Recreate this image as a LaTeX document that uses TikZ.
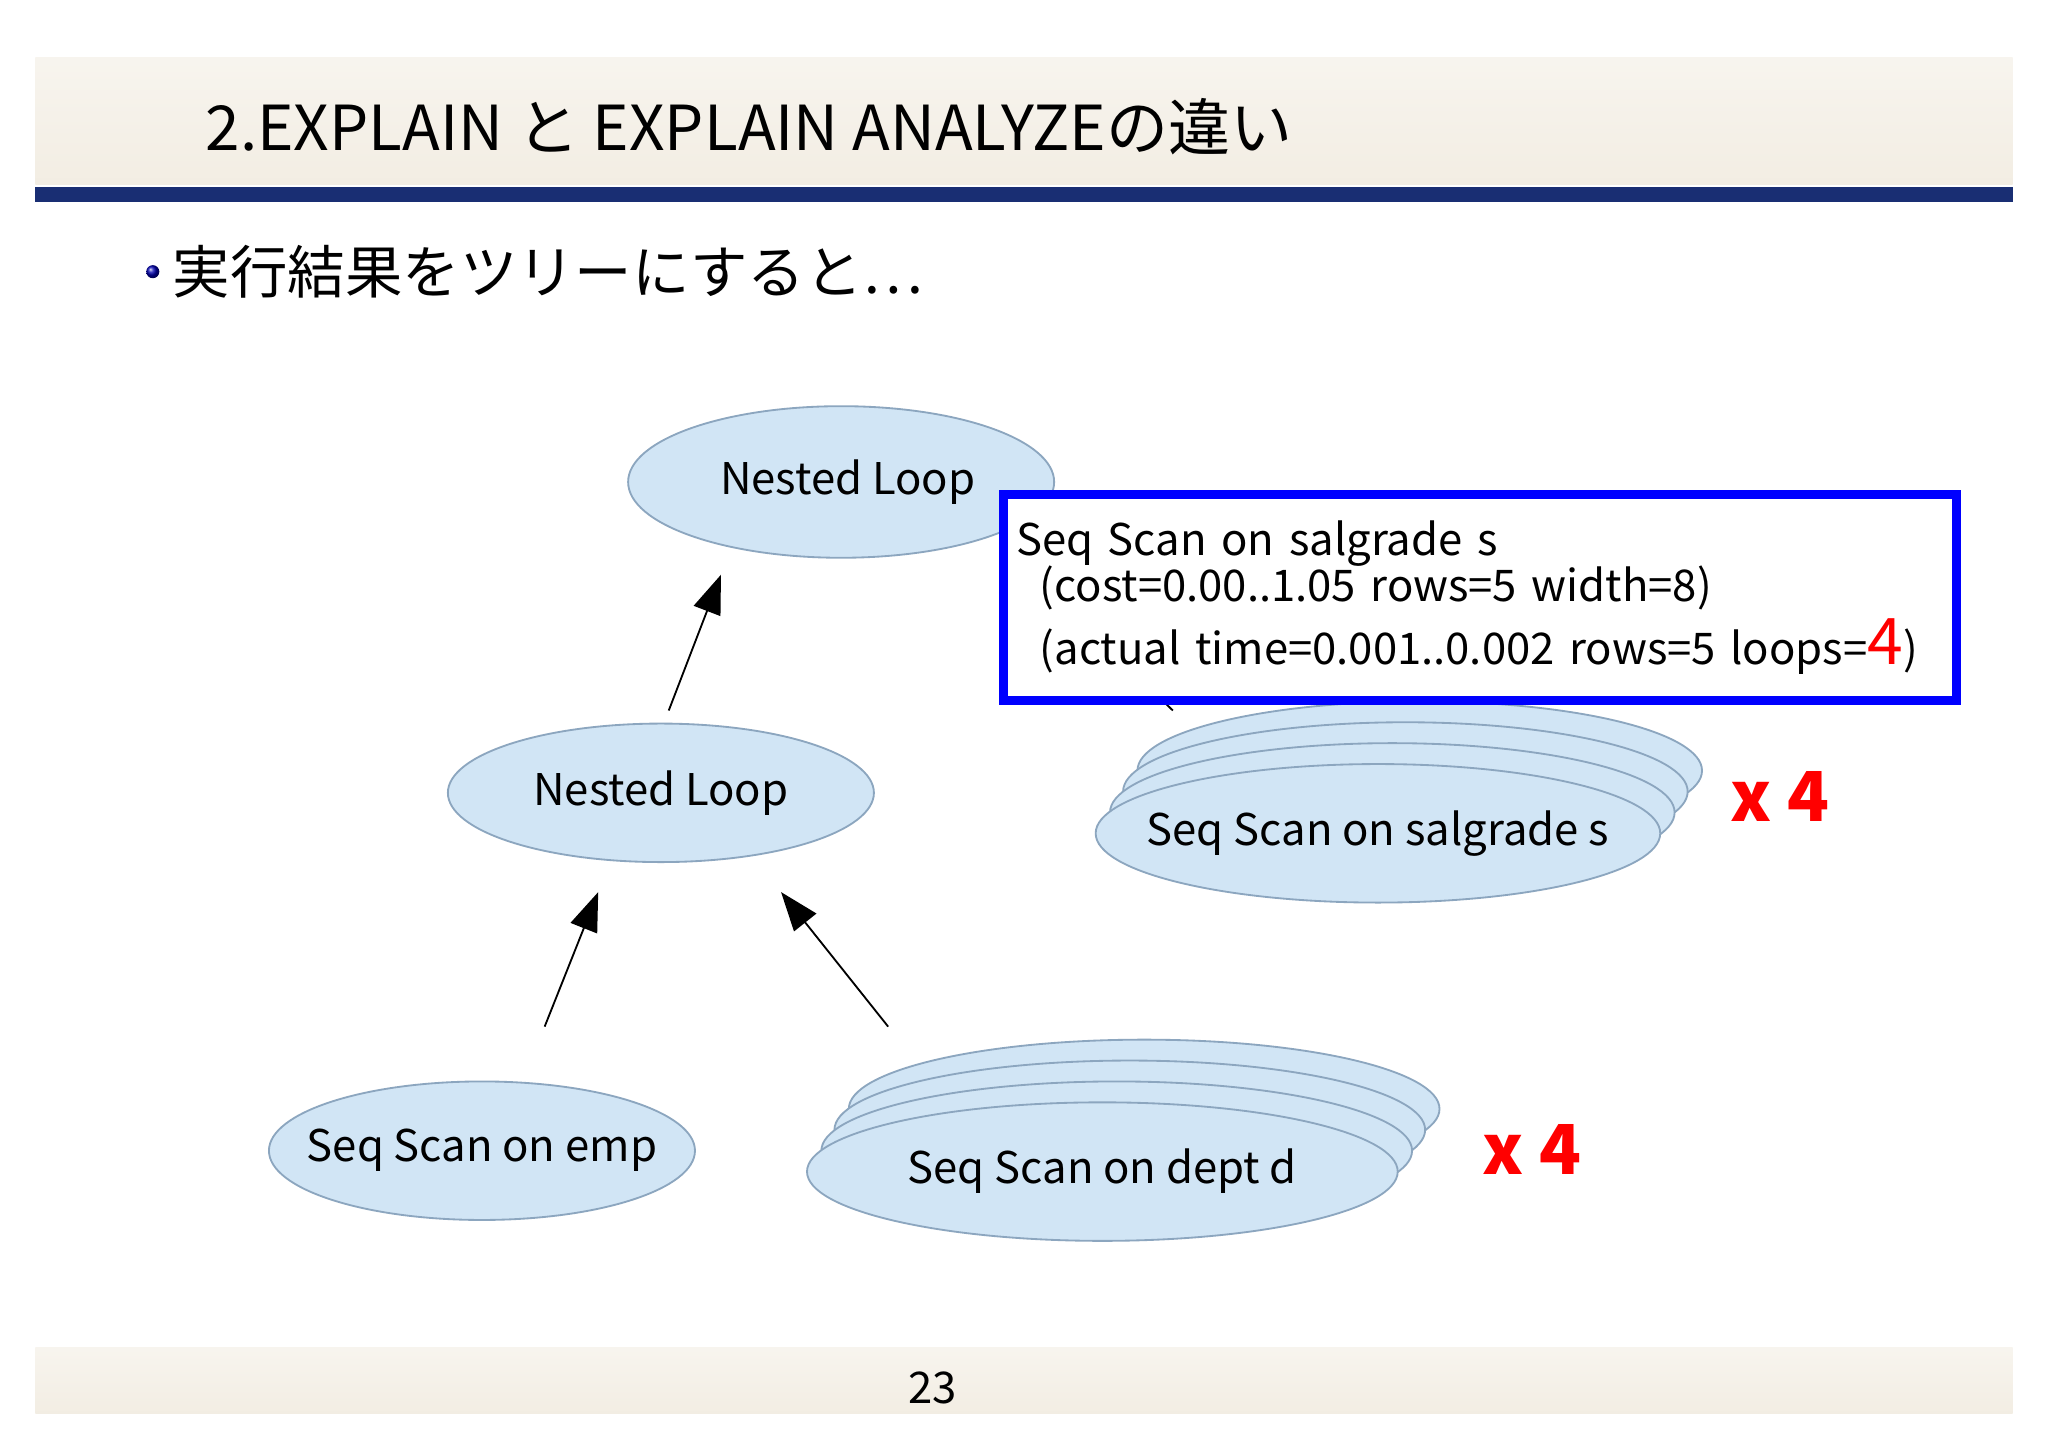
\documentclass[tikz,border=0pt]{standalone}
\usepackage{fontspec}
\setmainfont{Noto Sans CJK JP}
\usetikzlibrary{positioning,shapes,arrows.meta}
\definecolor{nodefill}{rgb}{0.82,0.9,0.96}
\definecolor{nodeline}{rgb}{0.55,0.65,0.75}
\definecolor{barblue}{rgb}{0.1,0.18,0.45}
\definecolor{bandtan}{rgb}{0.95,0.93,0.89}
\newcommand{\plantext}[1]{\makebox[0pt]{#1}}
\tikzset{
	plan/.style={
		draw=nodeline,
		fill=nodefill,
		ellipse,
		inner sep=0pt,
		font=\fontsize{9.5}{11}\selectfont,
	},
	flow/.style={
		thin,
		-{Triangle[angle=40:9pt]}
	},
	times/.style={
		text=red,
		font=\bfseries\fontsize{15}{18}\selectfont,
	},
}
\begin{document}
\begin{tikzpicture}[x=0.01cm,y=-0.01cm]
	\useasboundingbox[fill=white] (0,0) rectangle (1568,1108);

	% header and footer
	\shade[top color=bandtan!60!white,bottom color=bandtan] (27,44) rectangle (1541,141);
	\fill[barblue] (27,143) rectangle (1541,155);
	\node[anchor=west,font=\fontsize{13.5}{16}\selectfont] (title) at (145,97) {2.EXPLAIN と EXPLAIN ANALYZEの違い};
	\shade[ball color=blue!70!black] (117,208) circle (5);
	\node[anchor=west,font=\fontsize{12.5}{15}\selectfont] (lead) at (120,208) {実行結果をツリーにすると…};
	\shade[top color=bandtan!60!white,bottom color=bandtan] (27,1032) rectangle (1541,1082);
	\node[font=\fontsize{9.5}{11}\selectfont] (page) at (714,1063) {23};

	% plan tree
	\node[plan,minimum width=3.26cm,minimum height=1.16cm] (NL1) at (644,369) {\plantext{\hspace{0.1cm}Nested Loop}};
	\node[plan,minimum width=3.26cm,minimum height=1.06cm] (NL2) at (506,607) {\plantext{Nested Loop}};
	\node[plan,minimum width=3.26cm,minimum height=1.06cm] (EMP) at (369,881) {\plantext{Seq Scan on emp}};

	\foreach \i/\x/\y in {1/876/849,2/865/865,3/855/881}
		\node[plan,minimum width=4.52cm,minimum height=1.06cm] (DEPT\i) at (\x,\y) {};
	\node[plan,minimum width=4.52cm,minimum height=1.06cm] (DEPT) at (844,897) {\plantext{Seq Scan on dept d}};

	\foreach \i/\x/\y in {1/1087/590,2/1076/606,3/1066/622}
		\node[plan,minimum width=4.32cm,minimum height=1.06cm] (SAL\i) at (\x,\y) {};
	\node[plan,minimum width=4.32cm,minimum height=1.06cm] (SAL) at (1055,638) {\plantext{Seq Scan on salgrade s}};

	\coordinate (a1) at (512,544);
	\coordinate (a1e) at (552,440);
	\coordinate (a2) at (417,786);
	\coordinate (a2e) at (458,683);
	\coordinate (a3) at (680,786);
	\coordinate (a3e) at (598,683);
	\coordinate (a4) at (898,544);
	\coordinate (a4e) at (790,440);
	\draw[flow] (a1) -- (a1e);
	\draw[flow] (a2) -- (a2e);
	\draw[flow] (a3) -- (a3e);
	\draw[flow] (a4) -- (a4e);

	% detail box
	\node[draw=blue,line width=2pt,fill=white,anchor=north west,minimum width=7.29cm,minimum height=1.58cm,
		text width=7.1cm,align=left,inner sep=0.08cm,font=\fontsize{9.5}{11}\selectfont] (info) at (765,375)
		{Seq Scan on salgrade s\\[-1pt]
		\hspace*{0.18cm}(cost=0.00..1.05 rows=5 width=8)\\[1pt]
		\hspace*{0.18cm}(actual time=0.001..0.002 rows=5 loops={\color{red}\fontsize{14}{11}\selectfont 4})};

	\node[times] (x1) at (1363,610) {x 4};
	\node[times] (x2) at (1173,880) {x 4};
\end{tikzpicture}
\end{document}
